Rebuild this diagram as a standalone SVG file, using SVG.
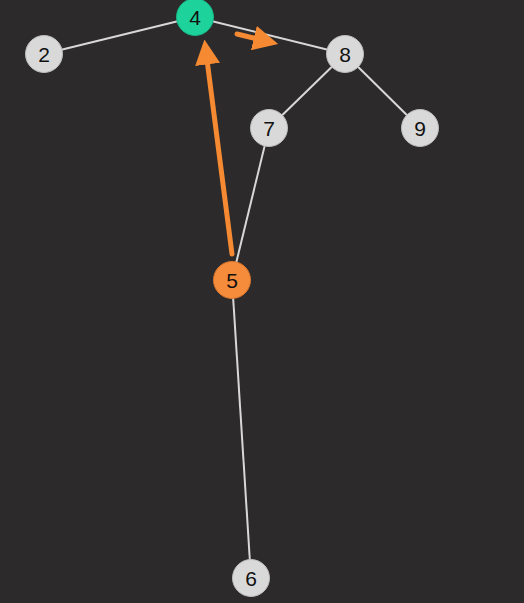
<svg xmlns="http://www.w3.org/2000/svg" width="524" height="603" viewBox="0 0 524 603">
<style>
.e{stroke:#d8d8d8;stroke-width:2;fill:none}
.n{fill:#d9d9d9;stroke:#bdbdbd;stroke-width:1}
.t{font-family:"Liberation Sans",Arial,sans-serif;font-size:21px;fill:#111;text-anchor:middle;dominant-baseline:central}
.a{stroke:#f58a33;stroke-width:5;stroke-linecap:round;fill:none}
</style>
<defs>
<marker id="ah" markerWidth="5" markerHeight="5" refX="2.5" refY="2.5" orient="auto" markerUnits="strokeWidth">
<path d="M0,0 L5,2.5 L0,5 Z" fill="#f58a33"/>
</marker>
</defs>
<rect width="524" height="603" fill="#2c2a2b"/>
<g id="connectors">
<line class="e" x1="44" y1="54" x2="195" y2="17"/>
<line class="e" x1="195" y1="17" x2="345" y2="54"/>
<line class="e" x1="345" y1="54" x2="269" y2="128"/>
<line class="e" x1="345" y1="54" x2="420" y2="128"/>
<line class="e" x1="269" y1="128" x2="232" y2="280"/>
<line class="e" x1="232" y1="280" x2="251" y2="578"/>
<line class="a" x1="232" y1="254" x2="206" y2="52" marker-end="url(#ah)"/>
<line class="a" x1="237" y1="34" x2="266" y2="41" marker-end="url(#ah)"/>
</g>
<g id="node2"><circle class="n" cx="44" cy="54" r="18.5"/><text class="t" x="44" y="54">2</text></g>
<g id="node4"><circle cx="195" cy="17" r="18.5" fill="#1ed39b" stroke="#17b585"/><text class="t" x="195" y="17">4</text></g>
<g id="node8"><circle class="n" cx="345" cy="54" r="18.5"/><text class="t" x="345" y="54">8</text></g>
<g id="node7"><circle class="n" cx="269" cy="128" r="18.5"/><text class="t" x="269" y="128">7</text></g>
<g id="node9"><circle class="n" cx="420" cy="128" r="18.5"/><text class="t" x="420" y="128">9</text></g>
<g id="node5"><circle cx="232" cy="280" r="18.5" fill="#f58c3c" stroke="#d9772d"/><text class="t" x="232" y="280">5</text></g>
<g id="node6"><circle class="n" cx="251" cy="578" r="18.5"/><text class="t" x="251" y="578">6</text></g>
</svg>
